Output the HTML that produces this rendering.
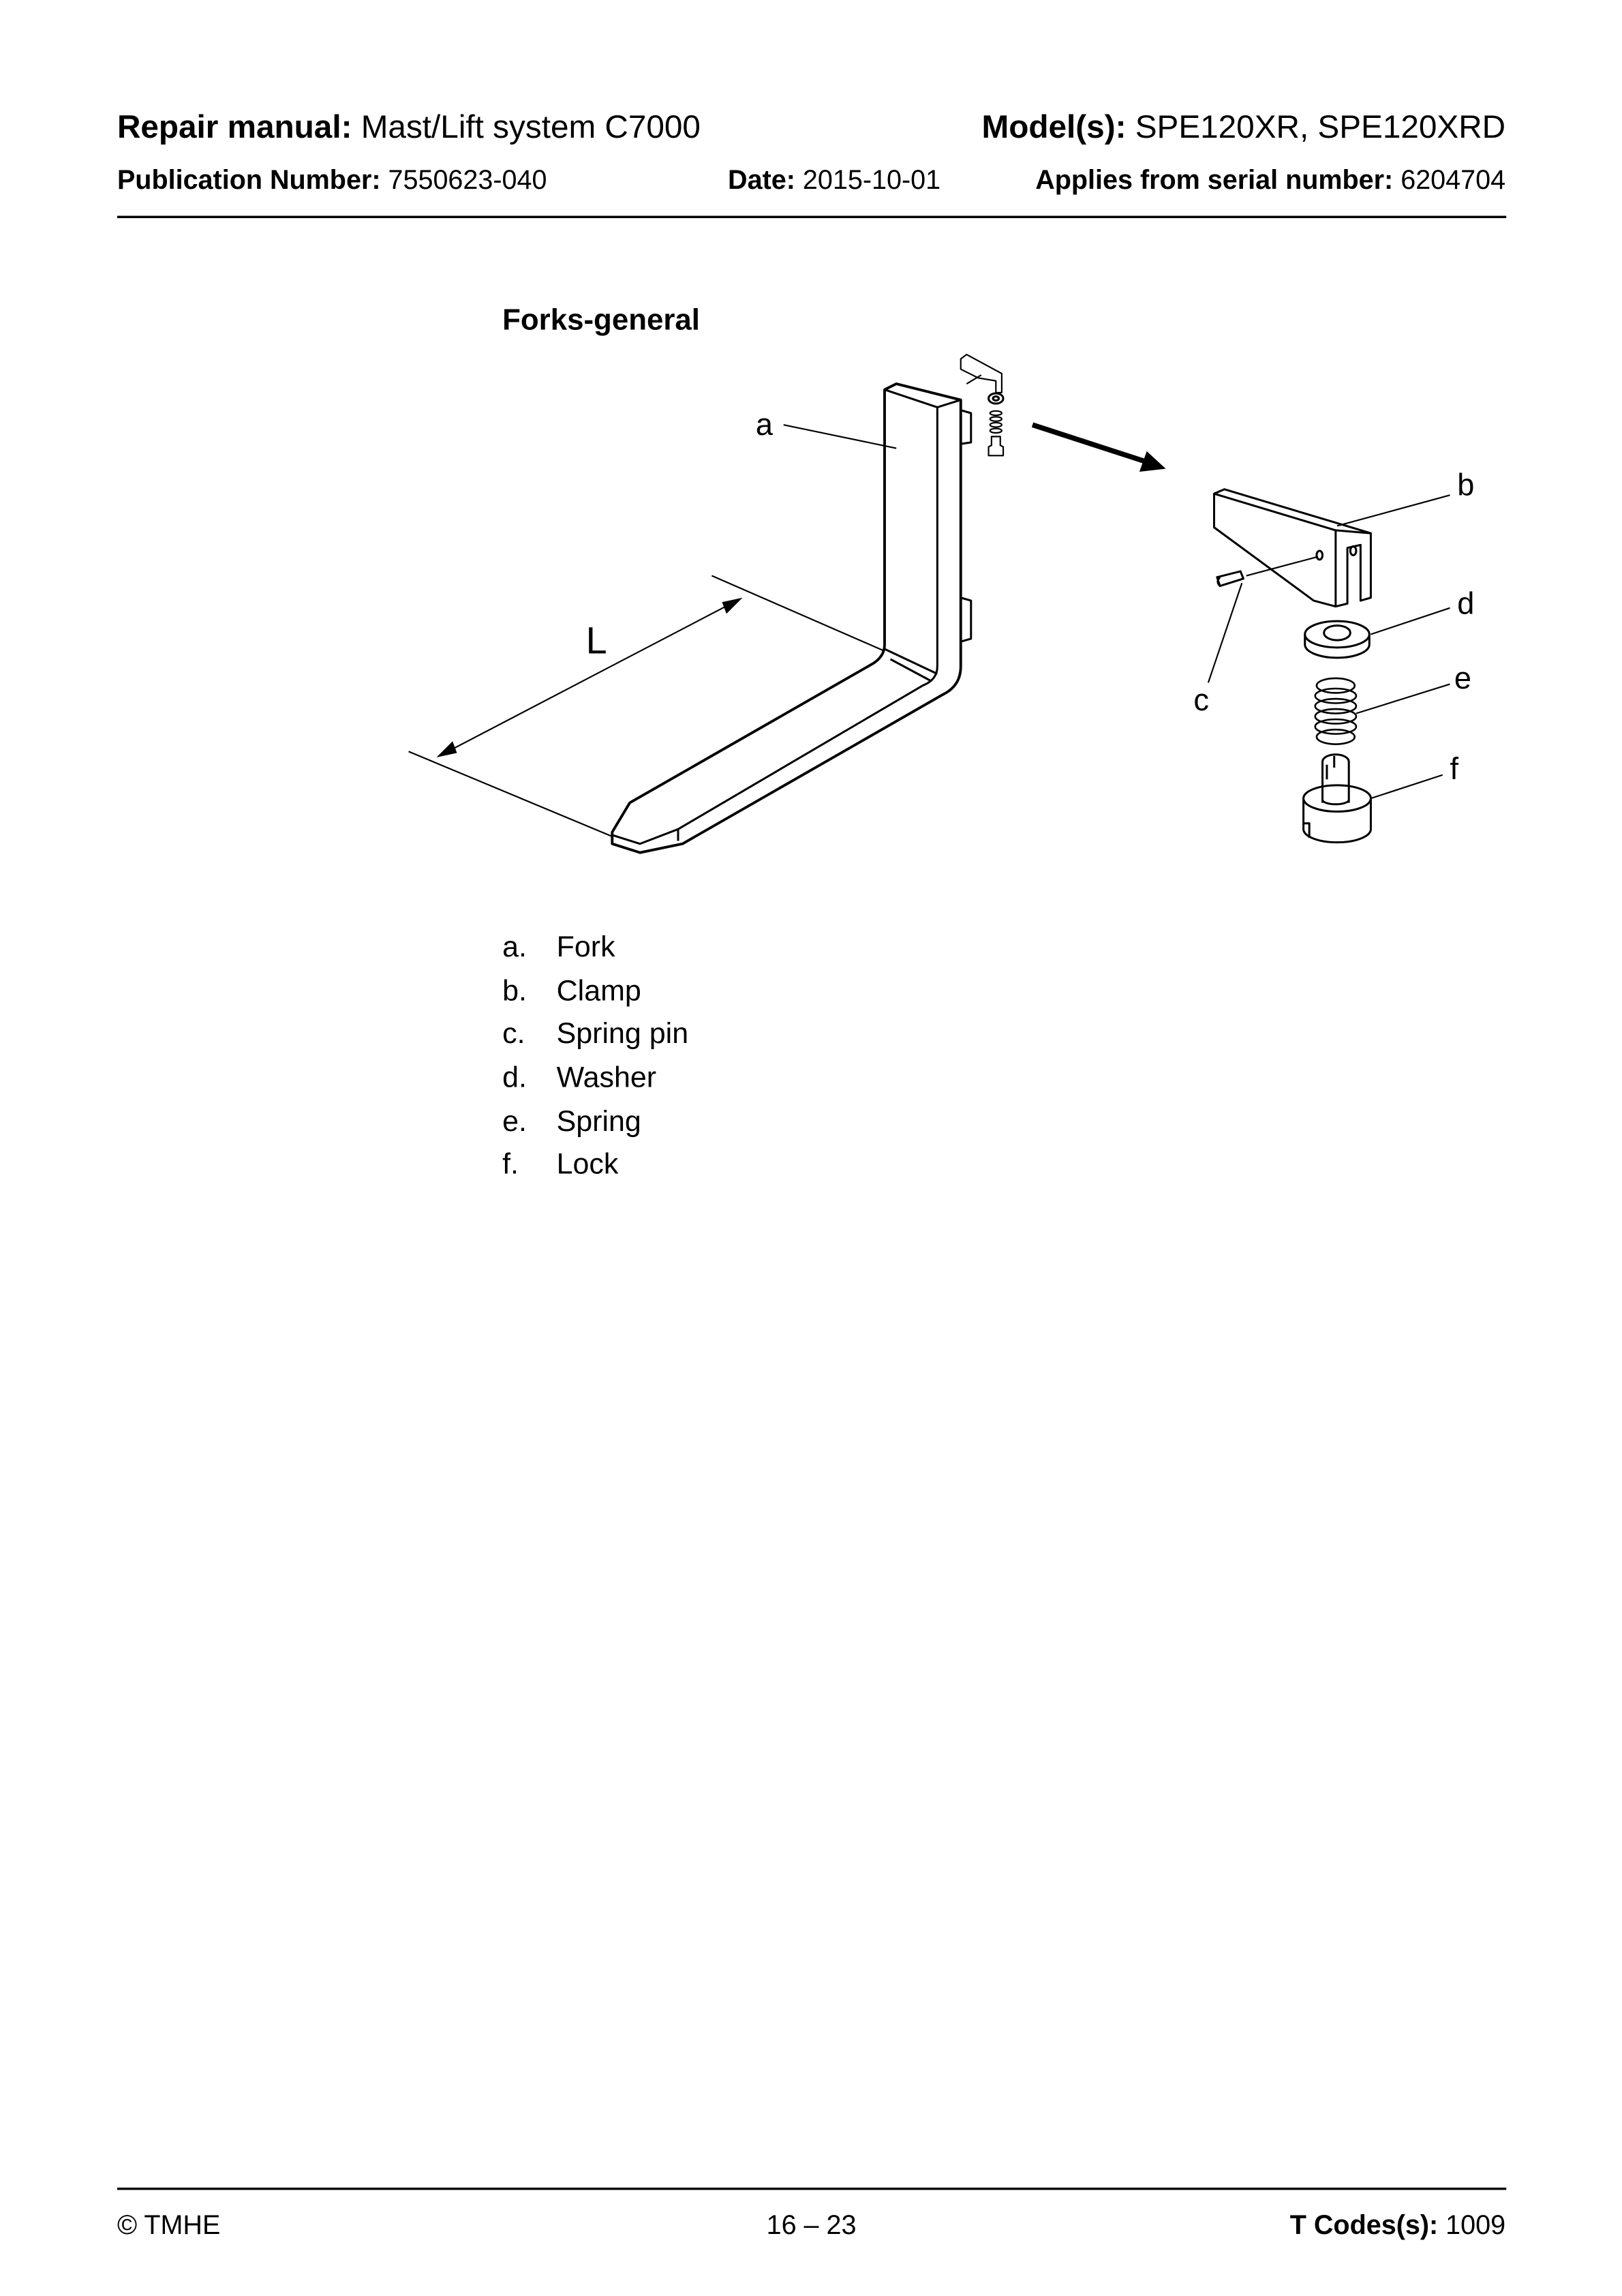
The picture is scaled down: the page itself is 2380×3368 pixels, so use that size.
<!DOCTYPE html>
<html><head><meta charset="utf-8"><style>
html,body{margin:0;padding:0;background:#fff}
svg{display:block}
text{font-family:"Liberation Sans",Arial,sans-serif;fill:#000}
</style></head><body>
<svg width="2380" height="3368" viewBox="0 0 1107.5 1567.3" xmlns="http://www.w3.org/2000/svg">
<!-- header -->
<text x="80" y="94" font-size="22.2"><tspan font-weight="bold">Repair manual:</tspan> Mast/Lift system C7000</text>
<text x="1028" y="94" font-size="22.2" text-anchor="end"><tspan font-weight="bold">Model(s):</tspan> SPE120XR, SPE120XRD</text>
<text x="80" y="129" font-size="18.4"><tspan font-weight="bold">Publication Number:</tspan> 7550623-040</text>
<text x="497" y="129" font-size="18.4"><tspan font-weight="bold">Date:</tspan> 2015-10-01</text>
<text x="1028" y="129" font-size="18.4" text-anchor="end"><tspan font-weight="bold">Applies from serial number:</tspan> 6204704</text>
<rect x="80" y="147.3" width="948.5" height="1.6" fill="#000"/>

<text x="343" y="225" font-size="20.4" font-weight="bold">Forks-general</text>

<g fill="none" stroke="#000" stroke-width="1.4" stroke-linejoin="round">
<!-- fork -->
<path d="M604,266 L612,262 L656,273 L656,455 Q656,468 644,474 L466,576 L437,582 L418,576 L418,568 L430,548 L596,453 Q604,448 604,440 Z" stroke-width="1.8"/>
<path d="M604,266 L640,278 L656,273 M640,278 L640,455 Q640,464 630,468 L463,566 L437,576 L418,570 M463,566 L463,574"/>
<path d="M604,443 L640,460 M608,450 L636,465"/>
<path d="M656,280 L663,282 L663,302 L656,303 M656,408 L663,410 L663,436 L656,438"/>
<!-- dimension -->
<path d="M486,393 L603,444 M279,513 L418,571 M300,516 L505,409" stroke-width="1"/>
<!-- leader a -->
<path d="M535,290 L612,306" stroke-width="1"/>
<!-- small exploded -->
<path d="M656,245 L660,242 L684,255 L684,268 L680,268 L680,260 L668,258 L656,252 Z M670,256 L660,262" stroke-width="1"/>
<ellipse cx="680" cy="272" rx="5" ry="3.5"/><ellipse cx="680" cy="272" rx="2" ry="1.4"/>
<ellipse cx="680" cy="282" rx="4" ry="1.5" stroke-width="1"/><ellipse cx="680" cy="286" rx="4" ry="1.5" stroke-width="1"/><ellipse cx="680" cy="290" rx="4" ry="1.5" stroke-width="1"/><ellipse cx="680" cy="294" rx="4" ry="1.5" stroke-width="1"/>
<path d="M677,298 L683,298 L683,304 L685,305 L685,311 L675,311 L675,305 L677,304 Z" stroke-width="1"/>
<!-- clamp b -->
<path d="M829,337 L836,334 L936,364 L936,408 L929,410 L929,372 L920,374 L920,412 L912,414 L897,410 L829,360 Z"/>
<path d="M829,337 L912,362 L936,364 M912,362 L912,414"/>
<ellipse cx="901" cy="379" rx="2" ry="3"/><ellipse cx="924" cy="376" rx="2" ry="3"/>
<path d="M851,393 L900,380" stroke-width="1"/>
<path d="M831,394 L847,390 L849,395 L833,400 Z M833,394 q-3,3 0,6"/>
<path d="M848,398 L825,466" stroke-width="1"/>
<path d="M913,359 L990,338" stroke-width="1"/>
<!-- washer d -->
<path d="M891,433 L891,440 A22,9 0 0 0 935,440 L935,433"/>
<ellipse cx="913" cy="433" rx="22" ry="9"/><ellipse cx="913" cy="432" rx="9" ry="5"/>
<path d="M936,433 L990,415" stroke-width="1"/>
<!-- spring e -->
<g stroke-width="1.2">
<ellipse cx="912" cy="468" rx="13" ry="5"/><ellipse cx="912" cy="475" rx="14" ry="5"/><ellipse cx="912" cy="482" rx="14" ry="5"/><ellipse cx="912" cy="489" rx="14" ry="5"/><ellipse cx="912" cy="496" rx="14" ry="5"/><ellipse cx="912" cy="503" rx="13" ry="5"/>
</g>
<path d="M926,487 L990,467" stroke-width="1"/>
<!-- lock f -->
<path d="M903,520 A9,5 0 0 1 921,520 L921,548 M903,520 L903,548 M911,516 L911,524 M906,522 L906,532"/>
<path d="M890,545 L890,566 A23,9 0 0 0 936,566 L936,545 A23,9 0 0 0 890,545 Z M890,545 A23,9 0 0 0 936,545 M903,546 A9,3 0 0 0 921,546 M890,562 L894,562 L894,572"/>
<path d="M936,545 L985,529" stroke-width="1"/>
</g>
<!-- arrowheads -->
<path d="M298,517 L309,506 L312,514 Z M507,408 L496,419 L493,411 Z" fill="#000"/>
<path d="M705,290 L782,315" stroke="#000" stroke-width="3.5"/>
<path d="M796,320 L778,322 L783,308 Z" fill="#000"/>

<g font-size="21">
<text x="516" y="297">a</text>
<text x="400" y="446" font-size="26">L</text>
<text x="995" y="338">b</text>
<text x="815" y="485">c</text>
<text x="995" y="419">d</text>
<text x="993" y="470">e</text>
<text x="990" y="532">f</text>
</g>

<g font-size="20">
<text x="343" y="653">a.</text><text x="380" y="653">Fork</text>
<text x="343" y="683">b.</text><text x="380" y="683">Clamp</text>
<text x="343" y="712">c.</text><text x="380" y="712">Spring pin</text>
<text x="343" y="742">d.</text><text x="380" y="742">Washer</text>
<text x="343" y="772">e.</text><text x="380" y="772">Spring</text>
<text x="343" y="801">f.</text><text x="380" y="801">Lock</text>
</g>

<!-- footer -->
<rect x="80" y="1493.3" width="948.5" height="1.6" fill="#000"/>
<text x="80" y="1525" font-size="18.4">© TMHE</text>
<text x="554" y="1525" font-size="18.4" text-anchor="middle">16 – 23</text>
<text x="1028" y="1525" font-size="18.4" text-anchor="end"><tspan font-weight="bold">T Codes(s):</tspan> 1009</text>
</svg>
</body></html>
